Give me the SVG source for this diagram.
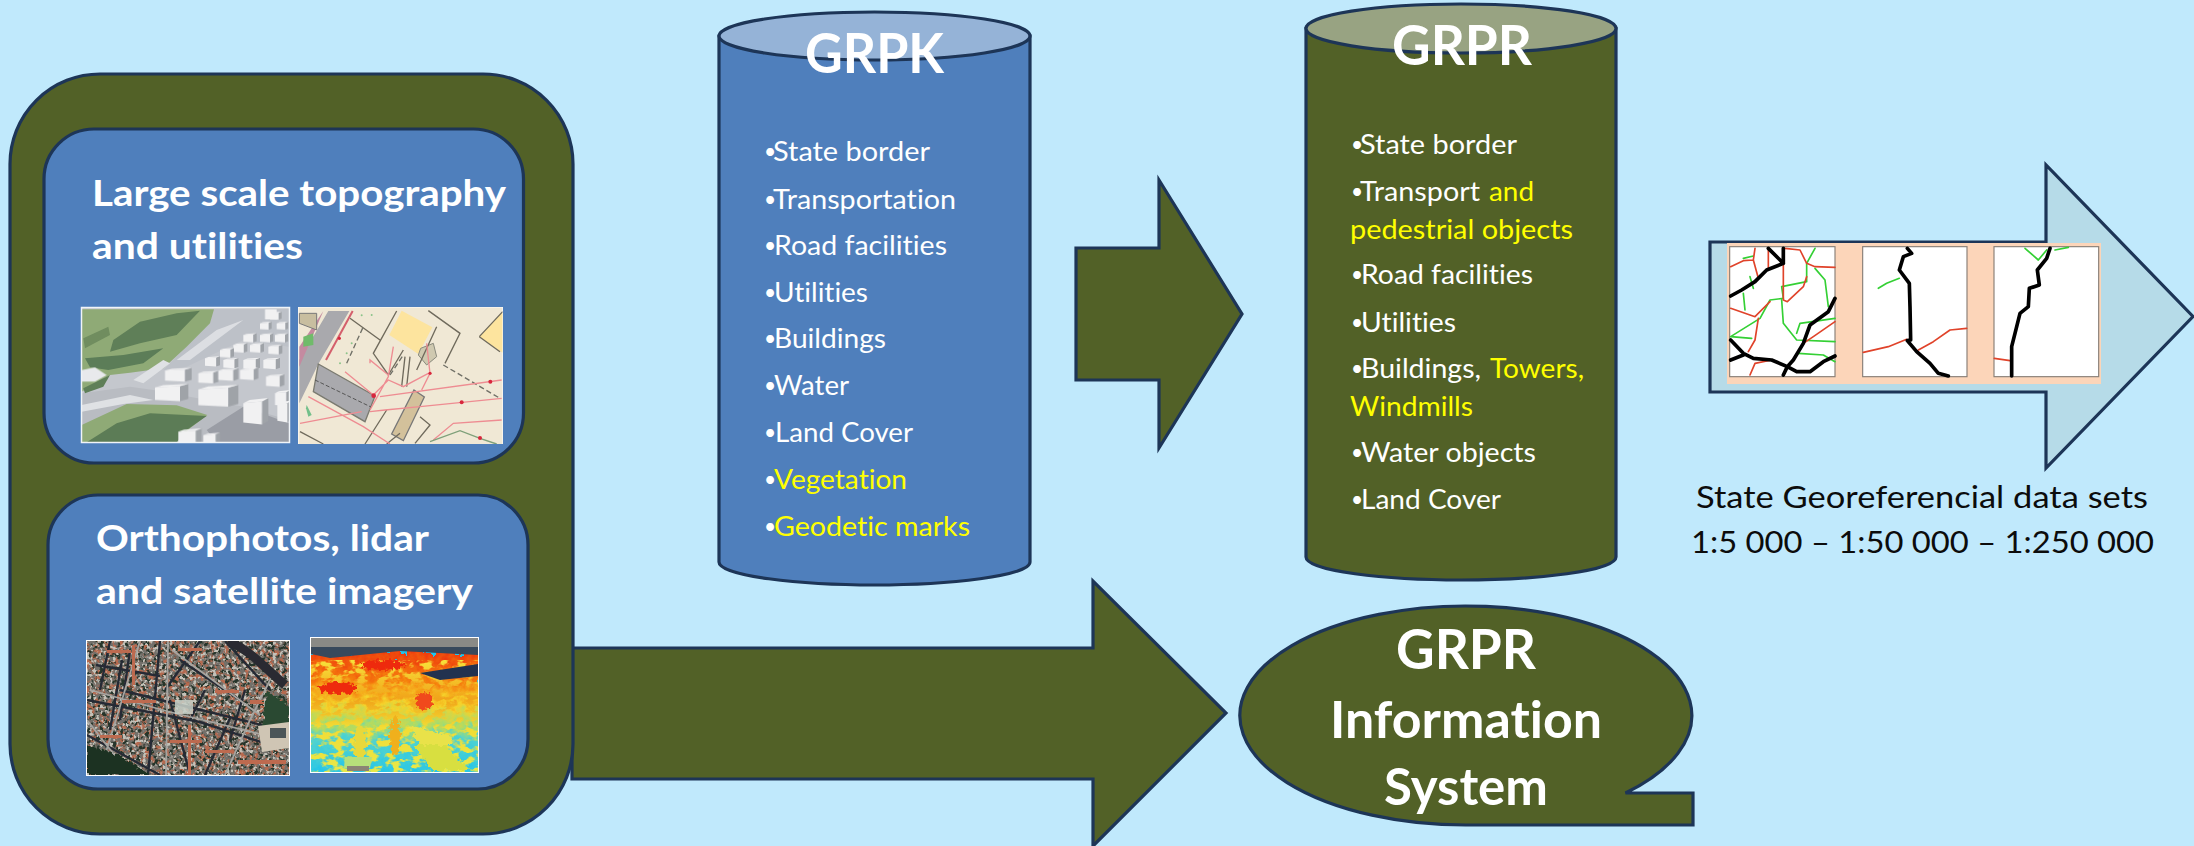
<svg xmlns="http://www.w3.org/2000/svg" xmlns:xlink="http://www.w3.org/1999/xlink" width="2194" height="846" viewBox="0 0 2194 846">
<style>
.sh{stroke:#1d3557;stroke-width:3.2;stroke-linejoin:miter}
.ol{fill:#526127}.bl{fill:#4f7fbc}
text{font-family:"Lato","Liberation Sans",sans-serif;font-variant-ligatures:none}
.h{font-weight:700;fill:#fff}
.t{font-size:27px;fill:#fff}
.u{font-size:21px}
.y{fill:#ffff00}
.k{font-size:31px;fill:#0c0c0c}
.ln{fill:none;stroke-linejoin:round;stroke-linecap:round}
.b{stroke:#000;stroke-width:11}.r{stroke:#e0432a;stroke-width:5}.g{stroke:#34d034;stroke-width:5}
.pn{fill:#fff;stroke:#8a8078;stroke-width:3.500}
.mr{fill:none;stroke:#ee8c92;stroke-width:4}
.md{fill:none;stroke:#6f6a5c;stroke-width:4}
.dot{fill:#d8283c}
.bk{fill:#f1f1f2}.bs{fill:#9fa3a8}
</style>
<defs>
<filter id="spa" x="0" y="0" width="100%" height="100%"><feTurbulence type="fractalNoise" baseFrequency=".2" numOctaves="2" seed="3"/><feColorMatrix type="matrix" values="0 0 0 0 0 0 0 0 0 0 0 0 0 0 0 7 0 0 0 -3.300" result="m"/><feComposite in="SourceGraphic" in2="m" operator="in"/></filter>
<filter id="spb" x="0" y="0" width="100%" height="100%"><feTurbulence type="fractalNoise" baseFrequency=".24" numOctaves="2" seed="21"/><feColorMatrix type="matrix" values="0 0 0 0 0 0 0 0 0 0 0 0 0 0 0 7 0 0 0 -3.500" result="m"/><feComposite in="SourceGraphic" in2="m" operator="in"/></filter>
<filter id="spc" x="0" y="0" width="100%" height="100%"><feTurbulence type="fractalNoise" baseFrequency=".3" numOctaves="2" seed="33"/><feColorMatrix type="matrix" values="0 0 0 0 0 0 0 0 0 0 0 0 0 0 0 7 0 0 0 -3.700" result="m"/><feComposite in="SourceGraphic" in2="m" operator="in"/></filter>
<filter id="spl" x="0" y="0" width="100%" height="100%"><feTurbulence type="fractalNoise" baseFrequency=".09 .15" numOctaves="3" seed="9"/><feColorMatrix type="matrix" values="0 0 0 0 0 0 0 0 0 0 0 0 0 0 0 7 0 0 0 -3.300" result="m"/><feComposite in="SourceGraphic" in2="m" operator="in"/></filter>
<filter id="rough" x="-5%" y="-5%" width="110%" height="110%"><feTurbulence type="fractalNoise" baseFrequency=".12" numOctaves="3" seed="4" result="n"/><feDisplacementMap in="SourceGraphic" in2="n" scale="30" xChannelSelector="R" yChannelSelector="G"/></filter>
<filter id="rough2" x="-10%" y="-10%" width="120%" height="120%"><feTurbulence type="fractalNoise" baseFrequency=".25" numOctaves="2" seed="11" result="n"/><feDisplacementMap in="SourceGraphic" in2="n" scale="8" xChannelSelector="R" yChannelSelector="G"/></filter>
<filter id="sft" x="0" y="0" width="100%" height="100%"><feGaussianBlur stdDeviation="1.500"/></filter>
<filter id="sf2" x="0" y="0" width="100%" height="100%"><feGaussianBlur stdDeviation=".45"/></filter>
<linearGradient id="lid" x1="0" y1="0" x2="0" y2="1">
<stop offset="0" stop-color="#ee3a10"/><stop offset=".22" stop-color="#f57a0c"/><stop offset=".42" stop-color="#f5d22a"/><stop offset=".58" stop-color="#a9dc6a"/><stop offset=".7" stop-color="#4fd2d0"/><stop offset="1" stop-color="#22c4ea"/>
</linearGradient>
<linearGradient id="lis" x1="0" y1="0" x2="0" y2="1">
<stop offset="0" stop-color="#f7e23a"/><stop offset=".35" stop-color="#f1a31a"/><stop offset=".6" stop-color="#f2dc34"/><stop offset="1" stop-color="#e7e848"/>
</linearGradient>
<clipPath id="c3d"><rect x="155" y="83" width="622" height="404"/></clipPath>
<clipPath id="cmap"><rect x="25" y="22" width="613" height="410"/></clipPath>
<clipPath id="cort"><rect x="87" y="641" width="202" height="134"/></clipPath>
<clipPath id="clid"><rect x="311" y="638" width="167" height="134"/></clipPath>
<g id="blk"><path class="bk" d="M0 0 L75 -5 V55 L0 50Z"/><path class="bs" d="M75 -5 L100 -14 V46 L75 55Z"/><path class="bk" d="M0 0 L25 -9 L100 -14 L75 -5Z"/></g>
</defs>
<rect width="2194" height="846" fill="#c0e9fc"/>

<g id="connectors">
<path id="arrow-grpk-grpr" class="sh ol" d="M1076 248H1159V180L1242 314L1159 448V380H1076Z"/>
<path id="arrow-sources-system" class="sh ol" d="M572 648H1093V581L1226 713L1093 846V779H572Z"/>
</g>

<g id="sources">
<rect class="sh ol" x="10" y="74" width="563" height="760" rx="90" ry="90"/>
<g id="topography">
<rect class="sh bl" x="44" y="129" width="479.500" height="334" rx="50" ry="50"/>
<text class="h" font-size="37" x="92" y="206" textLength="414" lengthAdjust="spacingAndGlyphs">Large scale topography</text>
<text class="h" font-size="37" x="92" y="259" textLength="211" lengthAdjust="spacingAndGlyphs">and utilities</text>
<rect x="81" y="307" width="209" height="136" fill="#f4f6f8"/>
<g clip-path="url(#c3d)" transform="translate(30 280) scale(.33333)">
<g filter="url(#sft)">
<rect x="155" y="83" width="622" height="404" fill="#c4c7cd"/>
<path d="M155 340L300 320L370 330L640 380L777 420V487H155Z" fill="#b9bcc2"/>
<path d="M550 88H777V200L640 180L470 260L400 270L480 190L540 130Z" fill="#bdc1c8"/>
<path d="M155 88L552 88L540 130L470 200L400 265L300 278L240 285L155 335Z" fill="#8faa76"/>
<path d="M250 180L330 125L440 100L510 92L440 165L330 190L240 215Z" fill="#5f7f58"/>
<path d="M165 235L280 225L400 205L340 250L235 270L180 262Z" fill="#5b7d58"/>
<path d="M160 325L240 285L220 320L165 340Z" fill="#5f7f58"/>
<path d="M160 175L235 140L240 165L165 205Z" fill="#6f8d5f"/>
<path d="M155 435L290 372L440 376L532 405L480 445L440 487H155Z" fill="#8faa76"/>
<path d="M170 487L260 430L360 400L530 408L470 450L440 487Z" fill="#5c7c56"/>
<path d="M530 450L640 380L777 430V487H560Z" fill="#9a9da5"/>
<path d="M155 375L300 345L370 360L280 372L155 395Z" fill="#dfe1e4"/>
<path d="M310 300L400 240L420 250L340 310Z" fill="#dfe1e4"/>
<path d="M440 240L560 150L640 120L600 150L480 240Z" fill="#dcdee2"/>
</g>
<g filter="url(#sft)">
<use xlink:href="#blk" transform="translate(720 100) scale(.35)"/>
<use xlink:href="#blk" transform="translate(690 130) scale(.35)"/>
<use xlink:href="#blk" transform="translate(740 130) scale(.35)"/>
<use xlink:href="#blk" transform="translate(640 165) scale(.4)"/>
<use xlink:href="#blk" transform="translate(690 165) scale(.4)"/>
<use xlink:href="#blk" transform="translate(735 165) scale(.4)"/>
<use xlink:href="#blk" transform="translate(610 195) scale(.42)"/>
<use xlink:href="#blk" transform="translate(660 195) scale(.42)"/>
<use xlink:href="#blk" transform="translate(715 200) scale(.42)"/>
<use xlink:href="#blk" transform="translate(570 210) scale(.42)"/>
<use xlink:href="#blk" transform="translate(525 235) scale(.45)"/>
<use xlink:href="#blk" transform="translate(580 240) scale(.45)"/>
<use xlink:href="#blk" transform="translate(640 240) scale(.5)"/>
<use xlink:href="#blk" transform="translate(700 240) scale(.5)"/>
<use xlink:href="#blk" transform="translate(405 272) scale(.8 .6)"/>
<use xlink:href="#blk" transform="translate(505 280) scale(.6 .55)"/>
<use xlink:href="#blk" transform="translate(565 272) scale(.6 .55)"/>
<use xlink:href="#blk" transform="translate(630 270) scale(.55)"/>
<use xlink:href="#blk" transform="translate(708 290) scale(.55)"/>
<use xlink:href="#blk" transform="translate(375 322) scale(1 .75)"/>
<use xlink:href="#blk" transform="translate(505 328) scale(1.2 .95)"/>
<use xlink:href="#blk" transform="translate(640 370) scale(.75 1.150)"/>
<use xlink:href="#blk" transform="translate(735 340) scale(.45 .7)"/>
<use xlink:href="#blk" transform="translate(742 375) scale(.4 .95)"/>
<use xlink:href="#blk" transform="translate(445 455) scale(.7 .7)"/>
<use xlink:href="#blk" transform="translate(520 465) scale(.5)"/>
<rect x="705" y="88" width="35" height="30" fill="#f1f1f2"/>
<path d="M155 270L195 262L230 285L195 305H155Z" fill="#e8e9ec"/>
</g>
</g>
<rect x="81.500" y="307.500" width="208" height="135" fill="none" stroke="#f0f4f8" stroke-width="1.500"/>
<rect x="298" y="307" width="205" height="137" fill="#fff"/>
<g clip-path="url(#cmap)" transform="translate(290 300) scale(.33333)">
<g filter="url(#sft)">
<rect x="25" y="22" width="613" height="410" fill="#f0e8d5"/>
<path d="M115 33H178L85 192L28 310V180Z" fill="#a9a9ad"/>
<path d="M100 33L28 200V140Z" fill="#c48aa0"/>
<path d="M188 33L108 180" fill="none" stroke="#d45f6c" stroke-width="6"/>
<path d="M28 40H80V90L28 70Z" fill="#c8bea0" stroke="#777" stroke-width="3"/>
<path d="M85 192L255 288L225 365L70 275Z" fill="#a9a9ad" stroke="#7a7a70" stroke-width="4"/>
<path d="M75 240L245 322" fill="none" stroke="#555" stroke-width="3" stroke-dasharray="12 6"/>
<path d="M40 110L70 100V135L40 140Z" fill="#6fbb6a"/>
<path d="M335 32L427 82L385 162L298 105Z" fill="#fde49e"/>
<path d="M638 35L568 110L638 158Z" fill="#fde49e"/>
<path d="M568 110L630 155M638 35L568 110" class="md"/>
<path d="M372 270L403 291L340 422L305 402Z" fill="#d3c19b" stroke="#777" stroke-width="4"/>
<path d="M392 145L430 130L440 170L410 195L385 165Z" fill="#cfc9b0" stroke="#8a8a7c" stroke-width="3"/>
<path class="md" d="M415 32L510 100L465 190M320 33L250 160L295 225L340 150M180 55L270 120M440 80L380 210M390 350L420 375L375 430M30 395L100 432M345 170L335 260M360 170L350 260M290 330L225 432M330 400L290 432"/>
<path d="M460 195L630 295M170 190L220 80M300 225L340 165" fill="none" stroke="#6f6f66" stroke-width="4" stroke-dasharray="16 9"/>
<path class="mr" d="M270 290L635 240M250 285L165 215M390 320L635 295M30 370L215 335M415 220L340 260L295 240L250 285M310 140L295 230L240 330M410 130L420 220L395 270M240 190V180L295 225M55 290L220 380L300 432M240 335L285 330L390 320M430 420L490 370L635 360"/>
<path d="M420 425L510 392L570 415L620 432" fill="none" stroke="#7fa07a" stroke-width="4"/>
<circle class="dot" cx="601" cy="245" r="6"/><circle class="dot" cx="515" cy="307" r="6"/><circle class="dot" cx="420" cy="220" r="5"/><circle class="dot" cx="251" cy="287" r="7"/><circle class="dot" cx="570" cy="414" r="6"/><circle class="dot" cx="148" cy="115" r="5"/>
<g fill="#8bc48a"><circle cx="150" cy="190" r="3"/><circle cx="170" cy="160" r="3"/><circle cx="185" cy="130" r="3"/><circle cx="215" cy="46" r="3"/><circle cx="245" cy="45" r="3"/></g>
<path d="M50 315L65 345L55 350L48 325Z" fill="#72c08a"/>
</g>
</g>
</g>
<g id="imagery">
<rect class="sh bl" x="48" y="495" width="480" height="294" rx="50" ry="50"/>
<text class="h" font-size="37" x="96" y="551" textLength="333" lengthAdjust="spacingAndGlyphs">Orthophotos, lidar</text>
<text class="h" font-size="37" x="96" y="604" textLength="377" lengthAdjust="spacingAndGlyphs">and satellite imagery</text>
<rect x="86" y="640" width="204" height="136" fill="#fff"/>
<g clip-path="url(#cort)">
<g filter="url(#sf2)">
<rect x="87" y="641" width="202" height="134" fill="#73706b"/>
<rect x="87" y="641" width="202" height="134" fill="#b56a50" filter="url(#spa)"/>
<rect x="87" y="641" width="202" height="134" fill="#26352a" filter="url(#spb)"/>
<rect x="87" y="641" width="202" height="134" fill="#c4c1b8" filter="url(#spc)"/>
<g fill="none" stroke="#262c36" stroke-width="2.400">
<path d="M87 735L160 775M87 700L200 722L270 745M120 690L290 732M160 641L148 775M122 660L110 730M200 641L165 690M110 641L100 690M225 641L270 690M170 700L190 775M230 718L205 775M96 665L160 676M130 650L120 720M180 660L240 700M205 690L190 720M245 690L230 740"/>
</g>
<g fill="none" stroke="#a5a4a0" stroke-width="1.800">
<path d="M168 641L166 775M90 690L170 712L285 740M140 641L125 690L102 765M275 670L250 720L225 775M172 650L260 715M87 720L130 775"/>
</g>
<g fill="#bd6a50"><rect x="107" y="650" width="24" height="3"/><rect x="132" y="645" width="3" height="40"/><rect x="122" y="700" width="34" height="3"/><rect x="170" y="740" width="32" height="3"/><rect x="188" y="725" width="3" height="50"/><rect x="250" y="700" width="14" height="4"/><rect x="100" y="735" width="22" height="3"/><rect x="238" y="760" width="48" height="4"/><rect x="205" y="750" width="28" height="3"/><rect x="178" y="648" width="24" height="3"/><rect x="215" y="690" width="24" height="3"/></g>
<path d="M87 745L120 755L150 775H87Z" fill="#1f3320" filter="url(#rough2)"/>
<path d="M266 690L289 705V725L262 735Z" fill="#2c4a30" filter="url(#rough2)"/>
<path d="M228 641C250 650 265 668 285 685" fill="none" stroke="#2a2c30" stroke-width="9"/>
<path d="M258 726L289 722V748L262 752Z" fill="#cfc5b4"/>
<rect x="270" y="728" width="16" height="10" fill="#4c5458"/>
<rect x="175" y="700" width="18" height="14" fill="#c8d0c8" opacity=".85"/>
</g>
</g>
<rect x="310" y="637" width="169" height="136" fill="#fff"/>
<g clip-path="url(#clid)">
<g filter="url(#sf2)">
<rect x="311" y="638" width="167" height="134" fill="#22c4ea"/>
<rect x="305" y="650" width="180" height="130" fill="url(#lid)" filter="url(#rough)"/>
<rect x="311" y="660" width="167" height="112" fill="url(#lis)" filter="url(#spl)"/>
<rect x="311" y="638" width="167" height="9" fill="#8a8a86"/>
<path d="M311 647H478V655L400 651L330 658L311 654Z" fill="#38485c"/>
<path d="M420 673L478 664V676L440 680Z" fill="#24324f"/>
<g filter="url(#rough2)"><ellipse cx="338" cy="688" rx="20" ry="6" fill="#ee2a10"/><ellipse cx="383" cy="665" rx="22" ry="5" fill="#ee2a10"/><ellipse cx="424" cy="701" rx="9" ry="8" fill="#f0481a"/></g>
<g fill="#e9e24a" filter="url(#rough2)"><path d="M408 725L450 735L455 745L420 745Z"/><path d="M413 745L432 770H470L445 745Z" fill="#d8df40"/><ellipse cx="395" cy="735" rx="5" ry="20" fill="#f0b01e"/><ellipse cx="360" cy="745" rx="6" ry="20" fill="#e8d83a"/></g>
<path d="M345 757L372 757L370 768H344Z" fill="#b7e07a"/>
<rect x="347" y="766" width="22" height="5" fill="#8a8474"/>
</g>
</g>
</g>
</g>

<g id="grpk">
<path class="sh bl" d="M719 36V562C719 576 800 585 874.500 585C949 585 1030 576 1030 562V36Z"/>
<ellipse class="sh" cx="874.500" cy="36" rx="155.500" ry="24" fill="#95b3d7"/>
<text class="h" font-size="56" x="805" y="73" textLength="139" lengthAdjust="spacingAndGlyphs">GRPK</text>
<text class="t" x="764" y="159"><tspan class="u">•</tspan><tspan x="773" y="161" textLength="157" lengthAdjust="spacingAndGlyphs">State border</tspan></text>
<text class="t" x="764" y="207"><tspan class="u">•</tspan><tspan x="773" y="209" textLength="183" lengthAdjust="spacingAndGlyphs">Transportation</tspan></text>
<text class="t" x="764" y="253"><tspan class="u">•</tspan><tspan x="774" y="255" textLength="173" lengthAdjust="spacingAndGlyphs">Road facilities</tspan></text>
<text class="t" x="764" y="300"><tspan class="u">•</tspan><tspan x="774" y="302" textLength="94" lengthAdjust="spacingAndGlyphs">Utilities</tspan></text>
<text class="t" x="764" y="346"><tspan class="u">•</tspan><tspan x="774" y="348" textLength="112" lengthAdjust="spacingAndGlyphs">Buildings</tspan></text>
<text class="t" x="764" y="393"><tspan class="u">•</tspan><tspan x="774" y="395" textLength="75" lengthAdjust="spacingAndGlyphs">Water</tspan></text>
<text class="t" x="764" y="440"><tspan class="u">•</tspan><tspan x="775" y="442" textLength="138" lengthAdjust="spacingAndGlyphs">Land Cover</tspan></text>
<text class="t" x="764" y="487"><tspan class="u">•</tspan><tspan class="y" x="774" y="489" textLength="133" lengthAdjust="spacingAndGlyphs">Vegetation</tspan></text>
<text class="t" x="764" y="534"><tspan class="u">•</tspan><tspan class="y" x="774" y="536" textLength="196" lengthAdjust="spacingAndGlyphs">Geodetic marks</tspan></text>
</g>

<g id="grpr">
<path class="sh ol" d="M1306 28.500V557C1306 571 1385 580 1461 580C1537 580 1616 571 1616 557V28.500Z"/>
<ellipse class="sh" cx="1461" cy="28.500" rx="155" ry="24.500" fill="#98a382"/>
<text class="h" font-size="56" x="1392" y="65" textLength="140" lengthAdjust="spacingAndGlyphs">GRPR</text>
<text class="t" x="1351" y="152"><tspan class="u">•</tspan><tspan x="1360" y="154" textLength="157" lengthAdjust="spacingAndGlyphs">State border</tspan></text>
<text class="t" x="1351" y="199"><tspan class="u">•</tspan><tspan x="1360" y="201" textLength="120" lengthAdjust="spacingAndGlyphs">Transport</tspan> <tspan class="y" x="1489" y="201" textLength="45" lengthAdjust="spacingAndGlyphs">and</tspan></text>
<text class="t y" x="1350" y="239" textLength="223" lengthAdjust="spacingAndGlyphs">pedestrial objects</text>
<text class="t" x="1351" y="282"><tspan class="u">•</tspan><tspan x="1361" y="284" textLength="172" lengthAdjust="spacingAndGlyphs">Road facilities</tspan></text>
<text class="t" x="1351" y="330"><tspan class="u">•</tspan><tspan x="1361" y="332" textLength="95" lengthAdjust="spacingAndGlyphs">Utilities</tspan></text>
<text class="t" x="1351" y="376"><tspan class="u">•</tspan><tspan x="1361" y="378" textLength="120" lengthAdjust="spacingAndGlyphs">Buildings,</tspan> <tspan class="y" x="1490" y="378" textLength="94" lengthAdjust="spacingAndGlyphs">Towers,</tspan></text>
<text class="t y" x="1350" y="416" textLength="123" lengthAdjust="spacingAndGlyphs">Windmills</text>
<text class="t" x="1351" y="460"><tspan class="u">•</tspan><tspan x="1361" y="462" textLength="175" lengthAdjust="spacingAndGlyphs">Water objects</tspan></text>
<text class="t" x="1351" y="507"><tspan class="u">•</tspan><tspan x="1361" y="509" textLength="140" lengthAdjust="spacingAndGlyphs">Land Cover</tspan></text>
</g>

<g id="information-system">
<path class="sh ol" d="M1467 825A226 109.500 0 1 1 1625.500 793H1693V825Z"/>
<text class="h" font-size="56" x="1396" y="669" textLength="140" lengthAdjust="spacingAndGlyphs">GRPR</text>
<text class="h" font-size="52" x="1330" y="738" textLength="272" lengthAdjust="spacingAndGlyphs">Information</text>
<text class="h" font-size="52" x="1384" y="805" textLength="164" lengthAdjust="spacingAndGlyphs">System</text>
</g>

<g id="data-sets">
<path class="sh" fill="#b6dbe8" d="M1710 242H2046V165L2193 316.500L2046 468V392H1710Z"/>
<rect x="1727" y="243" width="374" height="141" fill="#fcd5b9"/>
<g transform="translate(1700 220) scale(.33333)">
<rect class="pn" x="89" y="80" width="316" height="390"/>
<rect class="pn" x="488" y="80" width="313" height="390"/>
<rect class="pn" x="882" y="80" width="314" height="390"/>
<g class="ln">
<path class="g" d="M92 350L180 295L210 240L250 235L245 200L320 185L320 130L345 85M245 240L250 310L290 360L405 365M345 145L375 180L385 260M295 400L370 405L405 425M290 340L300 310L405 295M92 350L155 355M130 220L135 270M150 170L160 205M130 115L160 108"/>
<path class="r" d="M92 140L130 122L160 120L175 175M165 85L160 120M205 85V145M255 85L300 90L320 130L345 140L405 142M250 130V240L262 245L310 200L320 170M92 265L165 290L210 245M175 295L165 360L145 395M405 305L340 350L310 370M150 465L165 430L215 420"/>
<path class="b" d="M92 228L125 210L165 185L200 150L250 130V85M205 85L250 130M405 235L385 275L330 315L310 370L280 420L262 440M92 360L130 400L160 415L215 420L262 440L290 455L330 455L370 425L405 408M92 420L130 405M250 465L262 440"/>
<path class="g" d="M535 205L560 190L598 175"/>
<path class="r" d="M490 397L565 380L620 358M655 390L700 365L750 330L800 325"/>
<path class="b" d="M622 85L635 100L610 110L598 150L628 190L630 260L632 360L622 362L650 395L690 430L715 460L745 468"/>
<path class="g" d="M975 85L1015 120L1040 90M1065 90L1105 82"/>
<path class="r" d="M883 415L930 422"/>
<path class="b" d="M1050 85L1040 115L1012 150L1018 195L988 205L985 260L960 280L945 340L935 380V468"/>
</g>
</g>
<text class="k" x="1696" y="508" textLength="452" lengthAdjust="spacingAndGlyphs">State Georeferencial data sets</text>
<text class="k" x="1691" y="553" textLength="463" lengthAdjust="spacingAndGlyphs">1:5 000 – 1:50 000 – 1:250 000</text>
</g>
</svg>
